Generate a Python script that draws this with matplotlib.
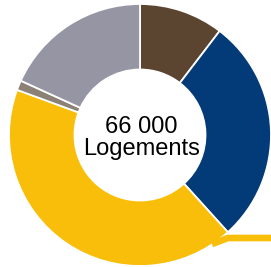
import matplotlib
matplotlib.use("Agg")
import matplotlib.pyplot as plt

labels = ["Brun", "Bleu", "Jaune", "Taupe", "Gris"]
shares = [10.4, 27.9, 42.3, 1.2, 18.2]
colors = ["#5B4530", "#033A78", "#F8BE0A", "#8C8177", "#9695A4"]

center_txt = ["66 000", "Logements"]

W, H = 271, 267

fig = plt.figure(figsize=(W / 100, H / 100), dpi=100)
ax = fig.add_axes([0, 0, 1, 1])

cx, cy, r = 140, H - 135, 131

ax.pie(
    shares,
    colors=colors,
    startangle=90,
    counterclock=False,
    center=(cx, cy),
    radius=r,
    wedgeprops=dict(width=r * 0.5, edgecolor="white", linewidth=1.3),
)

# yellow leader line going off to the right
lx = [212, 228, 280]
ly = [H - 244, H - 238, H - 238]
ax.plot(lx, ly, color=colors[2], linewidth=4.8, solid_capstyle="butt", solid_joinstyle="miter")

ax.text(141, H - 133, center_txt[0], ha="center", va="baseline",
        fontsize=17, family="Liberation Sans", color="black")
ax.text(142, H - 155, center_txt[1], ha="center", va="baseline",
        fontsize=17, family="Liberation Sans", color="black")

ax.set_xlim(0, W)
ax.set_ylim(0, H)
ax.set_aspect("auto")
ax.axis("off")

fig.savefig("out.png", dpi=100)
